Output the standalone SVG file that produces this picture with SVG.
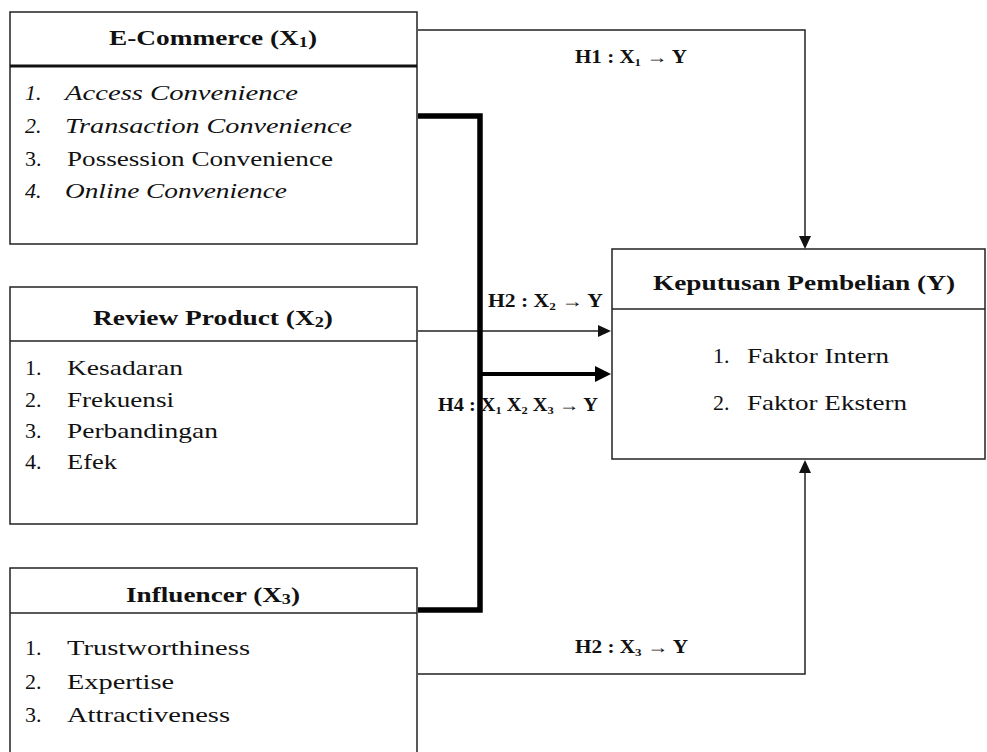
<svg xmlns="http://www.w3.org/2000/svg" width="987" height="752" viewBox="0 0 987 752">
<style>
  .box { fill: #fff; stroke: #222; stroke-width: 1.5; }
  .div { stroke: #222; stroke-width: 1.5; }
  .t { font-family: "Liberation Serif", "Times New Roman", serif; fill: #111; }
  .title { font-size: 21px; font-weight: bold; }
  .item { font-size: 22px; }
  .ital { font-style: italic; }
  .lbl { font-size: 18px; font-weight: bold; }
  .sub { font-size: 11px; }
  .con { fill: none; stroke: #222; stroke-width: 1.5; }
  .thick { fill: none; stroke: #000; stroke-width: 5.5; stroke-linejoin: miter; }
</style>
<defs>
  <marker id="ah" markerUnits="userSpaceOnUse" markerWidth="14" markerHeight="12" refX="0" refY="6" orient="auto">
    <path d="M0,0 L13,6 L0,12 z" fill="#111"/>
  </marker>
  <marker id="ahb" markerUnits="userSpaceOnUse" markerWidth="17" markerHeight="16" refX="0" refY="8" orient="auto">
    <path d="M0,0 L16,8 L0,16 z" fill="#000"/>
  </marker>
</defs>
<rect width="987" height="752" fill="#fff"/>

<g id="connectors">
  <path class="con" d="M418,30 H805 V236" marker-end="url(#ah)"/>
  <path class="con" d="M418,331 H598" marker-end="url(#ah)"/>
  <path class="con" d="M418,674 H805 V473" marker-end="url(#ah)"/>
  <path class="thick" d="M418,116 H480 V610 H418"/>
  <path class="con" style="stroke:#000;stroke-width:4" d="M480,374 H595" marker-end="url(#ahb)"/>
  <text class="t lbl" x="575" y="63" textLength="112" lengthAdjust="spacingAndGlyphs">H1 : X<tspan class="sub" dy="3">1</tspan><tspan dy="-3"> → Y</tspan></text>
  <text class="t lbl" x="488" y="307" textLength="115" lengthAdjust="spacingAndGlyphs">H2 : X<tspan class="sub" dy="3">2</tspan><tspan dy="-3"> → Y</tspan></text>
  <text class="t lbl" x="438" y="411" textLength="160" lengthAdjust="spacingAndGlyphs">H4 : X<tspan class="sub" dy="3">1</tspan><tspan dy="-3"> X</tspan><tspan class="sub" dy="3">2</tspan><tspan dy="-3"> X</tspan><tspan class="sub" dy="3">3</tspan><tspan dy="-3"> → Y</tspan></text>
  <text class="t lbl" x="575" y="653" textLength="113" lengthAdjust="spacingAndGlyphs">H2 : X<tspan class="sub" dy="3">3</tspan><tspan dy="-3"> → Y</tspan></text>
</g>

<g id="x1">
  <rect class="box" x="10" y="12" width="407" height="232"/>
  <line x1="10" y1="66" x2="417" y2="66" stroke="#111" stroke-width="3"/>
  <text class="t title" x="109" y="45" textLength="208" lengthAdjust="spacingAndGlyphs">E-Commerce (X<tspan class="sub" dy="2" style="font-size:14px">1</tspan><tspan dy="-2">)</tspan></text>
  <text class="t item ital" x="25" y="100">1.</text>
  <text class="t item ital" x="65" y="100" textLength="233" lengthAdjust="spacingAndGlyphs">Access Convenience</text>
  <text class="t item ital" x="25" y="133">2.</text>
  <text class="t item ital" x="65" y="133" textLength="287" lengthAdjust="spacingAndGlyphs">Transaction Convenience</text>
  <text class="t item" x="25" y="166">3.</text>
  <text class="t item" x="67" y="166" textLength="266" lengthAdjust="spacingAndGlyphs">Possession Convenience</text>
  <text class="t item ital" x="25" y="198">4.</text>
  <text class="t item ital" x="65" y="198" textLength="222" lengthAdjust="spacingAndGlyphs">Online Convenience</text>
</g>

<g id="x2">
  <rect class="box" x="10" y="287" width="407" height="237"/>
  <line class="div" x1="10" y1="341" x2="417" y2="341"/>
  <text class="t title" x="93" y="325" textLength="240" lengthAdjust="spacingAndGlyphs">Review Product (X<tspan class="sub" dy="2" style="font-size:14px">2</tspan><tspan dy="-2">)</tspan></text>
  <text class="t item" x="25" y="375">1.</text>
  <text class="t item" x="67" y="375" textLength="116" lengthAdjust="spacingAndGlyphs">Kesadaran</text>
  <text class="t item" x="25" y="407">2.</text>
  <text class="t item" x="67" y="407" textLength="107" lengthAdjust="spacingAndGlyphs">Frekuensi</text>
  <text class="t item" x="25" y="438">3.</text>
  <text class="t item" x="67" y="438" textLength="151" lengthAdjust="spacingAndGlyphs">Perbandingan</text>
  <text class="t item" x="25" y="469">4.</text>
  <text class="t item" x="67" y="469" textLength="50" lengthAdjust="spacingAndGlyphs">Efek</text>
</g>

<g id="x3">
  <rect class="box" x="10" y="568" width="407" height="200"/>
  <line class="div" x1="10" y1="613" x2="417" y2="613"/>
  <text class="t title" x="126" y="602" textLength="174" lengthAdjust="spacingAndGlyphs">Influencer (X<tspan class="sub" dy="2" style="font-size:14px">3</tspan><tspan dy="-2">)</tspan></text>
  <text class="t item" x="25" y="655">1.</text>
  <text class="t item" x="67" y="655" textLength="183" lengthAdjust="spacingAndGlyphs">Trustworthiness</text>
  <text class="t item" x="25" y="689">2.</text>
  <text class="t item" x="67" y="689" textLength="107" lengthAdjust="spacingAndGlyphs">Expertise</text>
  <text class="t item" x="25" y="722">3.</text>
  <text class="t item" x="67" y="722" textLength="163" lengthAdjust="spacingAndGlyphs">Attractiveness</text>
</g>

<g id="y">
  <rect class="box" x="612" y="249" width="373" height="210"/>
  <line class="div" x1="612" y1="309" x2="985" y2="309"/>
  <text class="t title" x="653" y="290" textLength="302" lengthAdjust="spacingAndGlyphs">Keputusan Pembelian (Y)</text>
  <text class="t item" x="713" y="363">1.</text>
  <text class="t item" x="747" y="363" textLength="142" lengthAdjust="spacingAndGlyphs">Faktor Intern</text>
  <text class="t item" x="713" y="410">2.</text>
  <text class="t item" x="747" y="410" textLength="160" lengthAdjust="spacingAndGlyphs">Faktor Ekstern</text>
</g>
</svg>
